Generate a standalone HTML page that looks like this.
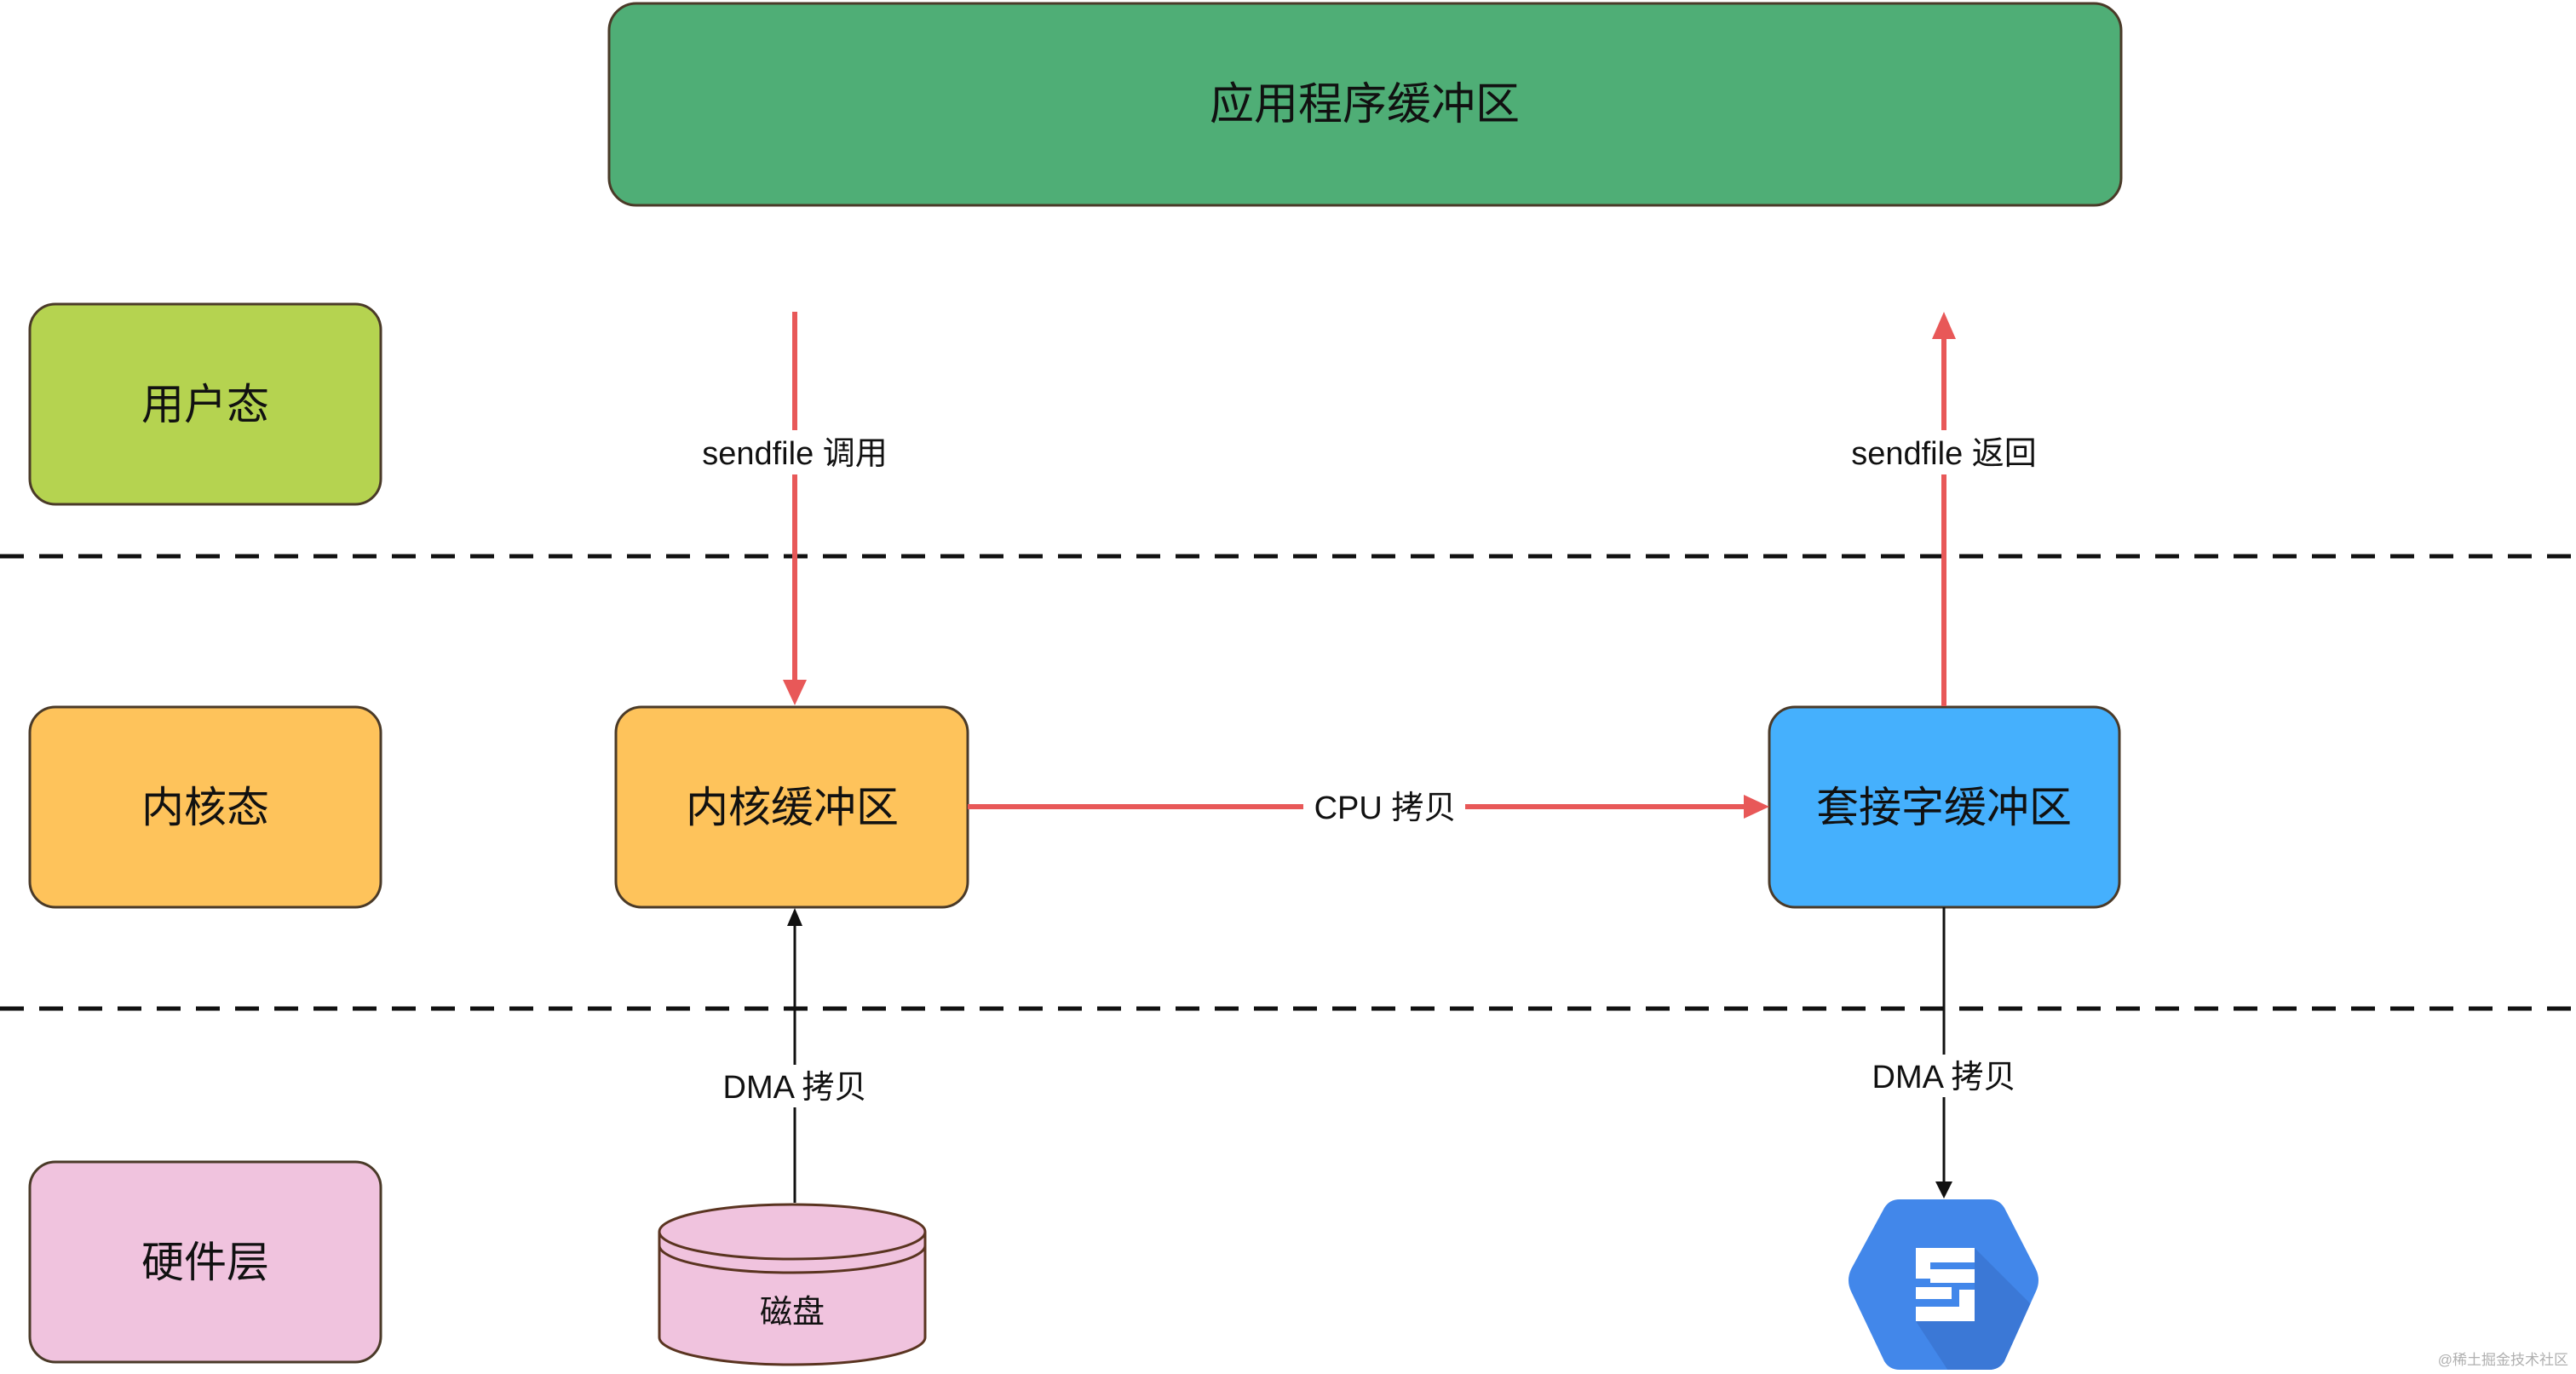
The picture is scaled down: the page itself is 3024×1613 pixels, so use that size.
<!DOCTYPE html>
<html><head><meta charset="utf-8"><style>
html,body{margin:0;padding:0;background:#fff;}
body{width:3024px;height:1613px;overflow:hidden;position:relative;}
svg{position:absolute;left:0;top:0;}
text{font-family:"Liberation Sans","Noto Sans CJK SC",sans-serif;fill:#111;}
</style></head><body>
<svg width="3024" height="1613" viewBox="0 0 3024 1613">
<defs>
<clipPath id="hx"><path d="M2230,1408 L2335,1408 Q2347,1408 2353,1418 L2390,1490 Q2396,1503 2390,1516 L2353,1598 Q2347,1608 2335,1608 L2230,1608 Q2218,1608 2212,1598 L2173,1516 Q2167,1503 2173,1490 L2212,1418 Q2218,1408 2230,1408 Z"/></clipPath>
</defs>
<line x1="0" y1="653" x2="3024" y2="653" stroke="#111" stroke-width="5" stroke-dasharray="28,18"/>
<line x1="0" y1="1184" x2="3024" y2="1184" stroke="#111" stroke-width="5" stroke-dasharray="28,18"/>
<rect x="715" y="4" width="1775" height="237" rx="32" fill="#4fae76" stroke="#4a3a28" stroke-width="3"/>
<text x="1602" y="140" font-size="52" text-anchor="middle">应用程序缓冲区</text>
<rect x="35" y="357" width="412" height="235" rx="30" fill="#b5d350" stroke="#4a3a28" stroke-width="3"/>
<text x="241" y="492" font-size="50" text-anchor="middle">用户态</text>
<rect x="35" y="830" width="412" height="235" rx="30" fill="#fec35b" stroke="#4a3a28" stroke-width="3"/>
<text x="241" y="965" font-size="50" text-anchor="middle">内核态</text>
<rect x="35" y="1364" width="412" height="235" rx="30" fill="#f0c3de" stroke="#4a3a28" stroke-width="3"/>
<text x="241" y="1499" font-size="50" text-anchor="middle">硬件层</text>
<rect x="723" y="830" width="413" height="235" rx="30" fill="#fec35b" stroke="#4a3a28" stroke-width="3"/>
<text x="930" y="965" font-size="50" text-anchor="middle">内核缓冲区</text>
<rect x="2077" y="830" width="411" height="235" rx="30" fill="#45b0fd" stroke="#4a3a28" stroke-width="3"/>
<text x="2282" y="965" font-size="50" text-anchor="middle">套接字缓冲区</text>
<line x1="933" y1="366" x2="933" y2="800" stroke="#e85858" stroke-width="6"/>
<path d="M919,798 L933,828 L947,798 Z" fill="#e85858"/>
<rect x="800" y="505" width="266" height="52" fill="#fff"/>
<text x="933" y="545" font-size="38" text-anchor="middle">sendfile 调用</text>
<line x1="2282" y1="829" x2="2282" y2="395" stroke="#e85858" stroke-width="6"/>
<path d="M2268,398 L2282,366 L2296,398 Z" fill="#e85858"/>
<rect x="2149" y="505" width="266" height="52" fill="#fff"/>
<text x="2282" y="545" font-size="38" text-anchor="middle">sendfile 返回</text>
<line x1="1136" y1="947" x2="2050" y2="947" stroke="#e85858" stroke-width="6"/>
<path d="M2047,933 L2077,947 L2047,961 Z" fill="#e85858"/>
<rect x="1530" y="922" width="190" height="52" fill="#fff"/>
<text x="1626" y="961" font-size="38" text-anchor="middle">CPU 拷贝</text>
<line x1="933" y1="1412" x2="933" y2="1085" stroke="#111" stroke-width="3"/>
<path d="M924,1087 L933,1066 L942,1087 Z" fill="#111"/>
<rect x="830" y="1250" width="206" height="50" fill="#fff"/>
<text x="933" y="1289" font-size="38" text-anchor="middle">DMA 拷贝</text>
<line x1="2282" y1="1065" x2="2282" y2="1388" stroke="#111" stroke-width="3"/>
<path d="M2272,1387 L2282,1407 L2292,1387 Z" fill="#111"/>
<rect x="2179" y="1238" width="206" height="50" fill="#fff"/>
<text x="2282" y="1277" font-size="38" text-anchor="middle">DMA 拷贝</text>
<path d="M774,1446 L774,1570 A156,32 0 0 0 1086,1570 L1086,1446" fill="#f0c3de" stroke="#5a3420" stroke-width="3"/>
<ellipse cx="930" cy="1446" rx="156" ry="32" fill="#f0c3de" stroke="#5a3420" stroke-width="3"/>
<path d="M774,1462 A156,32 0 0 0 1086,1462" fill="none" stroke="#5a3420" stroke-width="3"/>
<text x="930" y="1553" font-size="38" text-anchor="middle">磁盘</text>
<g clip-path="url(#hx)">
<rect x="2160" y="1400" width="240" height="215" fill="#4287ea"/>
<path d="M2318,1465 L2440,1587 L2340,1690 L2249,1551 L2318,1551 Z" fill="#3b78d6"/>
</g>
<g fill="#fff">
<rect x="2249" y="1465" width="69" height="17"/>
<rect x="2249" y="1482" width="17" height="19"/>
<rect x="2266" y="1490" width="52" height="16"/>
<rect x="2249" y="1511" width="42" height="14"/>
<rect x="2300" y="1514" width="18" height="20"/>
<rect x="2249" y="1534" width="69" height="17"/>
</g>
<text x="3015" y="1602" font-size="17" text-anchor="end" style="fill:#b0b0b0">@稀土掘金技术社区</text>
</svg>
</body></html>
